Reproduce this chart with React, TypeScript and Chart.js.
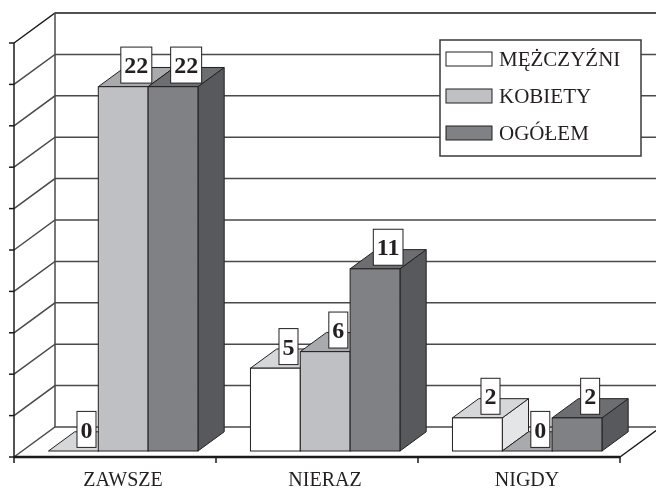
import React, { useEffect, useRef } from "react";
import { Chart, registerables } from "chart.js";

Chart.register(...registerables);

const categories = ["ZAWSZE", "NIERAZ", "NIGDY"];
const seriesNames = ["MĘŻCZYŹNI", "KOBIETY", "OGÓŁEM"];
const menValues = [0, 5, 2];
const womenValues = [22, 6, 0];
const totalValues = [22, 11, 2];

const frontColors = ["#ffffff", "#bfc0c4", "#808184"];
const topColors = ["#d6d7d9", "#a9aaae", "#6d6e71"];
const sideColors = ["#e4e5e7", "#97989b", "#58595c"];

const DX = 41;
const DY = 30;
const F0 = 0.2;
const F1 = 0.84;

const threeD = {
  id: "threeD",
  beforeDatasetsDraw(chart: any) {
    const ctx = chart.ctx as CanvasRenderingContext2D;
    const area = chart.chartArea;
    const ys = chart.scales.y;
    const W = chart.width;
    const left = area.left, right = area.right, bottom = area.bottom;
    ctx.save();
    ctx.lineCap = "butt";
    const ticks = ys.ticks.map((t: any) => t.value);
    ctx.lineWidth = 1.5;
    ticks.forEach((v: number, i: number) => {
      const yp = ys.getPixelForValue(v);
      ctx.beginPath();
      ctx.moveTo(left, yp);
      ctx.lineTo(left + DX, yp - DY);
      ctx.lineTo(W + 5, yp - DY);
      ctx.strokeStyle = i === ticks.length - 1 ? "#1a1a1a" : "#4a4a4c";
      ctx.stroke();
      ctx.beginPath();
      ctx.strokeStyle = "#1a1a1a";
      ctx.moveTo(left - 5, yp);
      ctx.lineTo(left, yp);
      ctx.stroke();
    });
    const y0 = ys.getPixelForValue(ys.min);
    const yMax = ys.getPixelForValue(ys.max);
    ctx.strokeStyle = "#4a4a4c";
    ctx.beginPath();
    ctx.moveTo(left + DX, y0 - DY);
    ctx.lineTo(left + DX, yMax - DY);
    ctx.stroke();
    ctx.strokeStyle = "#1a1a1a";
    ctx.beginPath();
    ctx.moveTo(left, y0);
    ctx.lineTo(left, yMax);
    ctx.stroke();
    ctx.lineWidth = 1.5;
    ctx.beginPath();
    ctx.moveTo(right, bottom);
    ctx.lineTo(right + DX, bottom - DY);
    ctx.stroke();
    ctx.lineWidth = 2.5;
    ctx.beginPath();
    ctx.moveTo(left, bottom);
    ctx.lineTo(right, bottom);
    ctx.stroke();
    ctx.lineWidth = 1.5;
    const n = categories.length;
    for (let i = 0; i <= n; i++) {
      const xp = left + ((right - left) * i) / n;
      ctx.beginPath();
      ctx.moveTo(xp, bottom);
      ctx.lineTo(xp, bottom + 6);
      ctx.stroke();
    }

    const dx = (F1 - F0) * DX;
    const dy = -(F1 - F0) * DY;
    const labels: any[] = [];
    for (let i = 0; i < n; i++) {
      chart.data.datasets.forEach((ds: any, j: number) => {
        const el = chart.getDatasetMeta(j).data[i];
        const w = el.width;
        const x0 = el.x - w / 2 + F0 * DX;
        const x1 = x0 + w;
        const yT = el.y - F0 * DY;
        const yB = el.base - F0 * DY;
        ctx.strokeStyle = "#231f20";
        ctx.lineWidth = 1;
        ctx.lineJoin = "miter";
        ctx.beginPath();
        ctx.moveTo(x1, yT);
        ctx.lineTo(x1 + dx, yT + dy);
        ctx.lineTo(x1 + dx, yB + dy);
        ctx.lineTo(x1, yB);
        ctx.closePath();
        ctx.fillStyle = sideColors[j];
        ctx.fill();
        ctx.stroke();
        ctx.beginPath();
        ctx.moveTo(x0, yT);
        ctx.lineTo(x1, yT);
        ctx.lineTo(x1 + dx, yT + dy);
        ctx.lineTo(x0 + dx, yT + dy);
        ctx.closePath();
        ctx.fillStyle = topColors[j];
        ctx.fill();
        ctx.stroke();
        if (yB - yT > 0.5) {
          ctx.fillStyle = frontColors[j];
          ctx.fillRect(x0, yT, w, yB - yT);
          ctx.strokeRect(x0, yT, w, yB - yT);
        }
        labels.push({
          text: String(ds.data[i]),
          cx: x0 + w / 2 + dx / 2,
          by: yT + dy / 2 + 6,
        });
      });
    }
    ctx.font = "bold 24px 'Liberation Serif'";
    ctx.textAlign = "center";
    ctx.textBaseline = "middle";
    labels.forEach((l) => {
      const tw = ctx.measureText(l.text).width;
      const bw = tw + 7;
      const bh = 36;
      ctx.fillStyle = "#ffffff";
      ctx.fillRect(l.cx - bw / 2, l.by - bh, bw, bh);
      ctx.strokeStyle = "#231f20";
      ctx.lineWidth = 1;
      ctx.strokeRect(l.cx - bw / 2, l.by - bh, bw, bh);
      ctx.fillStyle = "#231f20";
      ctx.fillText(l.text, l.cx, l.by - bh / 2 + 2);
    });

    const lx = 440, ly = 40, lw = 201, lh = 116;
    ctx.fillStyle = "#ffffff";
    ctx.fillRect(lx, ly, lw, lh);
    ctx.strokeStyle = "#3a3a3c";
    ctx.lineWidth = 1.5;
    ctx.strokeRect(lx, ly, lw, lh);
    ctx.font = "21px 'Liberation Serif'";
    ctx.textAlign = "left";
    ctx.textBaseline = "middle";
    chart.data.datasets.forEach((ds: any, j: number) => {
      const sy = 52 + j * 37;
      ctx.fillStyle = frontColors[j];
      ctx.fillRect(446, sy, 46, 14);
      ctx.strokeStyle = "#231f20";
      ctx.lineWidth = 1;
      ctx.strokeRect(446, sy, 46, 14);
      ctx.fillStyle = "#231f20";
      ctx.fillText(ds.label, 499, sy + 8);
    });
    ctx.restore();
    return false;
  },
};

export default function App() {
  const ref = useRef<HTMLCanvasElement>(null);
  useEffect(() => {
    if (!ref.current) return;
    const chart = new Chart(ref.current, {
      type: "bar",
      data: {
        labels: categories,
        datasets: [
          { label: seriesNames[0], data: menValues, backgroundColor: frontColors[0] },
          { label: seriesNames[1], data: womenValues, backgroundColor: frontColors[1] },
          { label: seriesNames[2], data: totalValues, backgroundColor: frontColors[2] },
        ],
      },
      options: {
        responsive: false,
        animation: false,
        devicePixelRatio: 1,
        layout: { padding: { left: 14, right: 36, top: 43, bottom: 0 } },
        plugins: { legend: { display: false }, tooltip: { enabled: false } },
        datasets: { bar: { categoryPercentage: 0.74, barPercentage: 1 } },
        scales: {
          x: {
            grid: { display: false, drawTicks: false },
            border: { display: false },
            ticks: {
              labelOffset: 8,
              padding: 12,
              color: "#231f20",
              font: { family: "'Liberation Serif'", size: 20 },
            },
            afterFit: (s: any) => {
              s.height = 32;
            },
          },
          y: {
            display: false,
            min: 0,
            max: 25,
            ticks: { stepSize: 2.5 },
          },
        },
      },
      plugins: [threeD],
    });
    return () => chart.destroy();
  }, []);
  return (
    <div style={{ position: "absolute", left: 0, top: 0, width: 656, height: 489, background: "#fff" }}>
      <canvas ref={ref} width={656} height={489} />
    </div>
  );
}
